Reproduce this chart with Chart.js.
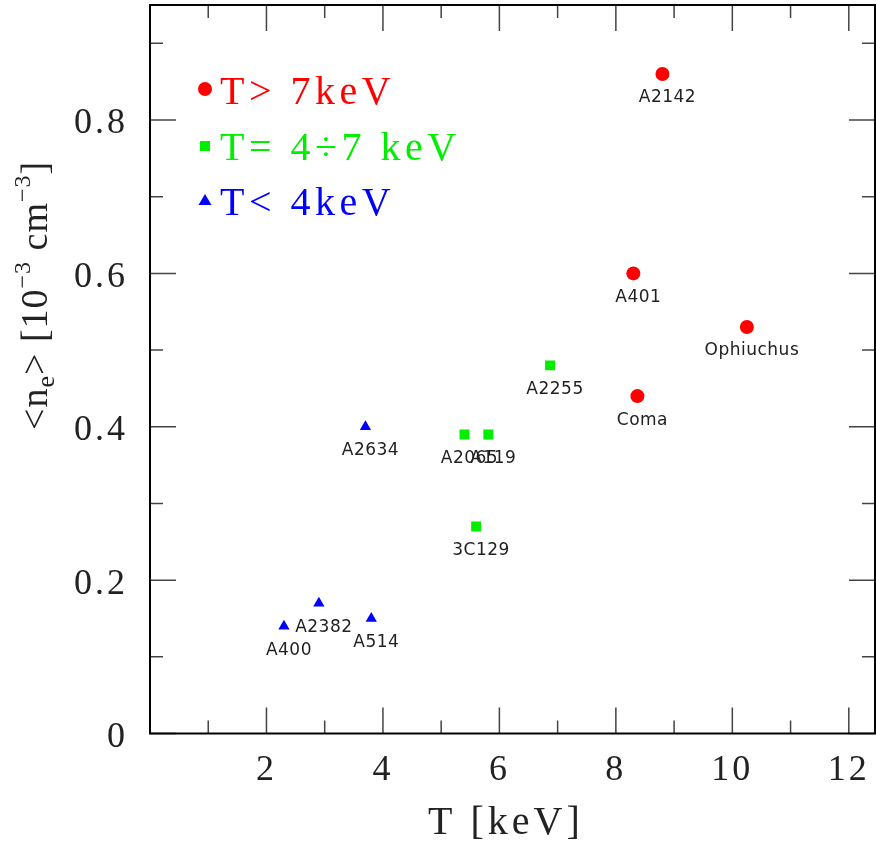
<!DOCTYPE html>
<html>
<head>
<meta charset="utf-8">
<script src="https://cdn.jsdelivr.net/npm/chart.js@4"></script>
<style>
  body { margin: 0; background: #fff; }
  #wrap { width: 876px; height: 845px; }
</style>
</head>
<body>
<div id="wrap"><canvas id="bieuDo" width="876" height="845"></canvas></div>
<script>
// data
const hotT = [8.8, 8.3, 10.25, 8.37];
const hotNe = [0.86, 0.60, 0.53, 0.44];
const hotNames = ['A2142', 'A401', 'Ophiuchus', 'Coma'];

const midT = [6.87, 5.4, 5.81, 5.6];
const midNe = [0.48, 0.39, 0.39, 0.27];
const midNames = ['A2255', 'A2065', 'A119', '3C129'];

const coolT = [3.7, 2.3, 2.9, 3.8];
const coolNe = [0.40, 0.14, 0.17, 0.15];
const coolNames = ['A2634', 'A400', 'A2382', 'A514'];

const legendLabels = ['T> 7keV', 'T= 4\u00f77 keV', 'T< 4keV'];
const xTicks = [2, 4, 6, 8, 10, 12];
const yTicks = [0, 0.2, 0.4, 0.6, 0.8];
const xMinor = [1, 3, 5, 7, 9, 11];
const yMinor = [0.1, 0.3, 0.5, 0.7, 0.9];

const RED = '#ff0000', GREEN = '#00ee00', BLUE = '#0000ff';

function toPoints(xs, ys) {
    return xs.map((x, i) => ({ x: x, y: ys[i] }));
}

// frame, inward ticks, legend, point names, axis titles
const decor = {
    id: 'decor',
    beforeDraw(chart) {
        // wider tick labels, like the plotting-package font
        chart.ctx.letterSpacing = '3px';
    },
    afterDraw(chart) {
        const ctx = chart.ctx;
        const a = chart.chartArea;
        const sx = chart.scales.x, sy = chart.scales.y;
        ctx.save();

        // ticks
        ctx.strokeStyle = '#444';
        ctx.lineWidth = 1.5;
        ctx.beginPath();
        const xt = (vals, len) => vals.forEach(v => {
            const p = sx.getPixelForValue(v);
            ctx.moveTo(p, a.bottom); ctx.lineTo(p, a.bottom - len);
            ctx.moveTo(p, a.top); ctx.lineTo(p, a.top + len);
        });
        const yt = (vals, len) => vals.forEach(v => {
            const p = sy.getPixelForValue(v);
            ctx.moveTo(a.left, p); ctx.lineTo(a.left + len, p);
            ctx.moveTo(a.right, p); ctx.lineTo(a.right - len, p);
        });
        xt(xTicks, 26); xt(xMinor, 13);
        yt(yTicks, 26); yt(yMinor, 13);
        ctx.stroke();

        // frame
        ctx.strokeStyle = '#000';
        ctx.lineWidth = 2;
        ctx.strokeRect(a.left, a.top, a.right - a.left, a.bottom - a.top);

        // point names
        ctx.fillStyle = '#222';
        ctx.font = '17px "DejaVu Sans"';
        ctx.letterSpacing = '0.5px';
        ctx.textAlign = 'center';
        ctx.textBaseline = 'middle';
        const names = (xs, ys, ns) => ns.forEach((n, i) => {
            ctx.fillText(n, sx.getPixelForValue(xs[i]) + 5, sy.getPixelForValue(ys[i]) + 24);
        });
        names(hotT, hotNe, hotNames);
        names(midT, midNe, midNames);
        names(coolT, coolNe, coolNames);

        // legend
        ctx.font = '40px "Liberation Serif"';
        ctx.letterSpacing = '4.5px';
        ctx.textAlign = 'left';
        ctx.textBaseline = 'alphabetic';
        const cols = [RED, GREEN, BLUE];
        const base = [104, 160, 215];
        legendLabels.forEach((t, i) => {
            ctx.fillStyle = cols[i];
            ctx.fillText(t, 220, base[i]);
        });
        ctx.fillStyle = RED;
        ctx.beginPath(); ctx.arc(205, 89, 7, 0, Math.PI * 2); ctx.fill();
        ctx.fillStyle = GREEN;
        ctx.fillRect(200, 141, 10, 10);
        ctx.fillStyle = BLUE;
        ctx.beginPath(); ctx.moveTo(205, 194); ctx.lineTo(211.5, 205); ctx.lineTo(198.5, 205); ctx.closePath(); ctx.fill();

        // x title
        ctx.fillStyle = '#222';
        ctx.font = '40px "Liberation Serif"';
        ctx.letterSpacing = '4px';
        ctx.fillText('T [keV]', 428, 834);

        // y title with sub/superscripts
        ctx.translate(47, 430);
        ctx.rotate(-Math.PI / 2);
        let x = 0;
        const part = (s, size, dy) => {
            ctx.font = size + 'px "Liberation Serif"';
            ctx.fillText(s, x, dy);
            x += ctx.measureText(s).width;
        };
        ctx.letterSpacing = '1px';
        part('<n', 38, 0);
        part('e', 26, 7);
        part('> [10', 38, 0);
        part('\u22123', 24, -17);
        part(' cm', 38, 0);
        part('\u22123', 24, -17);
        part(']', 38, 0);

        ctx.restore();
        ctx.letterSpacing = '0px';
    }
};

const data = {
    datasets: [
        {
            label: legendLabels[0],
            data: toPoints(hotT, hotNe),
            pointStyle: 'circle',
            pointRadius: 7,
            backgroundColor: RED,
            borderWidth: 0
        },
        {
            label: legendLabels[1],
            data: toPoints(midT, midNe),
            pointStyle: 'rect',
            pointRadius: 7,
            backgroundColor: GREEN,
            borderWidth: 0
        },
        {
            label: legendLabels[2],
            data: toPoints(coolT, coolNe),
            pointStyle: 'triangle',
            pointRadius: 6.5,
            backgroundColor: BLUE,
            borderWidth: 0
        }
    ]
};

const tickFont = { family: 'Liberation Serif', size: 36 };

const config = {
    type: 'scatter',
    data: data,
    options: {
        responsive: false,
        animation: false,
        layout: { autoPadding: false, padding: { top: 5, right: 1, left: 0, bottom: 0 } },
        plugins: { legend: { display: false }, tooltip: { enabled: false } },
        scales: {
            x: {
                type: 'linear',
                min: 0,
                max: 12.45,
                grid: { display: false, drawTicks: false },
                border: { display: false },
                afterBuildTicks: s => { s.ticks = xTicks.map(v => ({ value: v })); },
                afterFit: s => {
                    s.height = 111.5;
                    s.paddingLeft = 0; s.paddingRight = 0;
                },
                ticks: { font: tickFont, color: '#222', padding: 15, maxRotation: 0 }
            },
            y: {
                type: 'linear',
                min: 0,
                max: 0.95,
                grid: { display: false, drawTicks: false },
                border: { display: false },
                afterBuildTicks: s => { s.ticks = yTicks.map(v => ({ value: v })); },
                afterFit: s => {
                    s.width = 150;
                    s.paddingTop = 0; s.paddingBottom = 0;
                },
                ticks: { font: tickFont, color: '#222', padding: 22, labelOffset: 4 }
            }
        }
    },
    plugins: [decor]
};

let bieuDo = document.getElementById('bieuDo').getContext('2d');

new Chart(bieuDo, config);
</script>
</body>
</html>
